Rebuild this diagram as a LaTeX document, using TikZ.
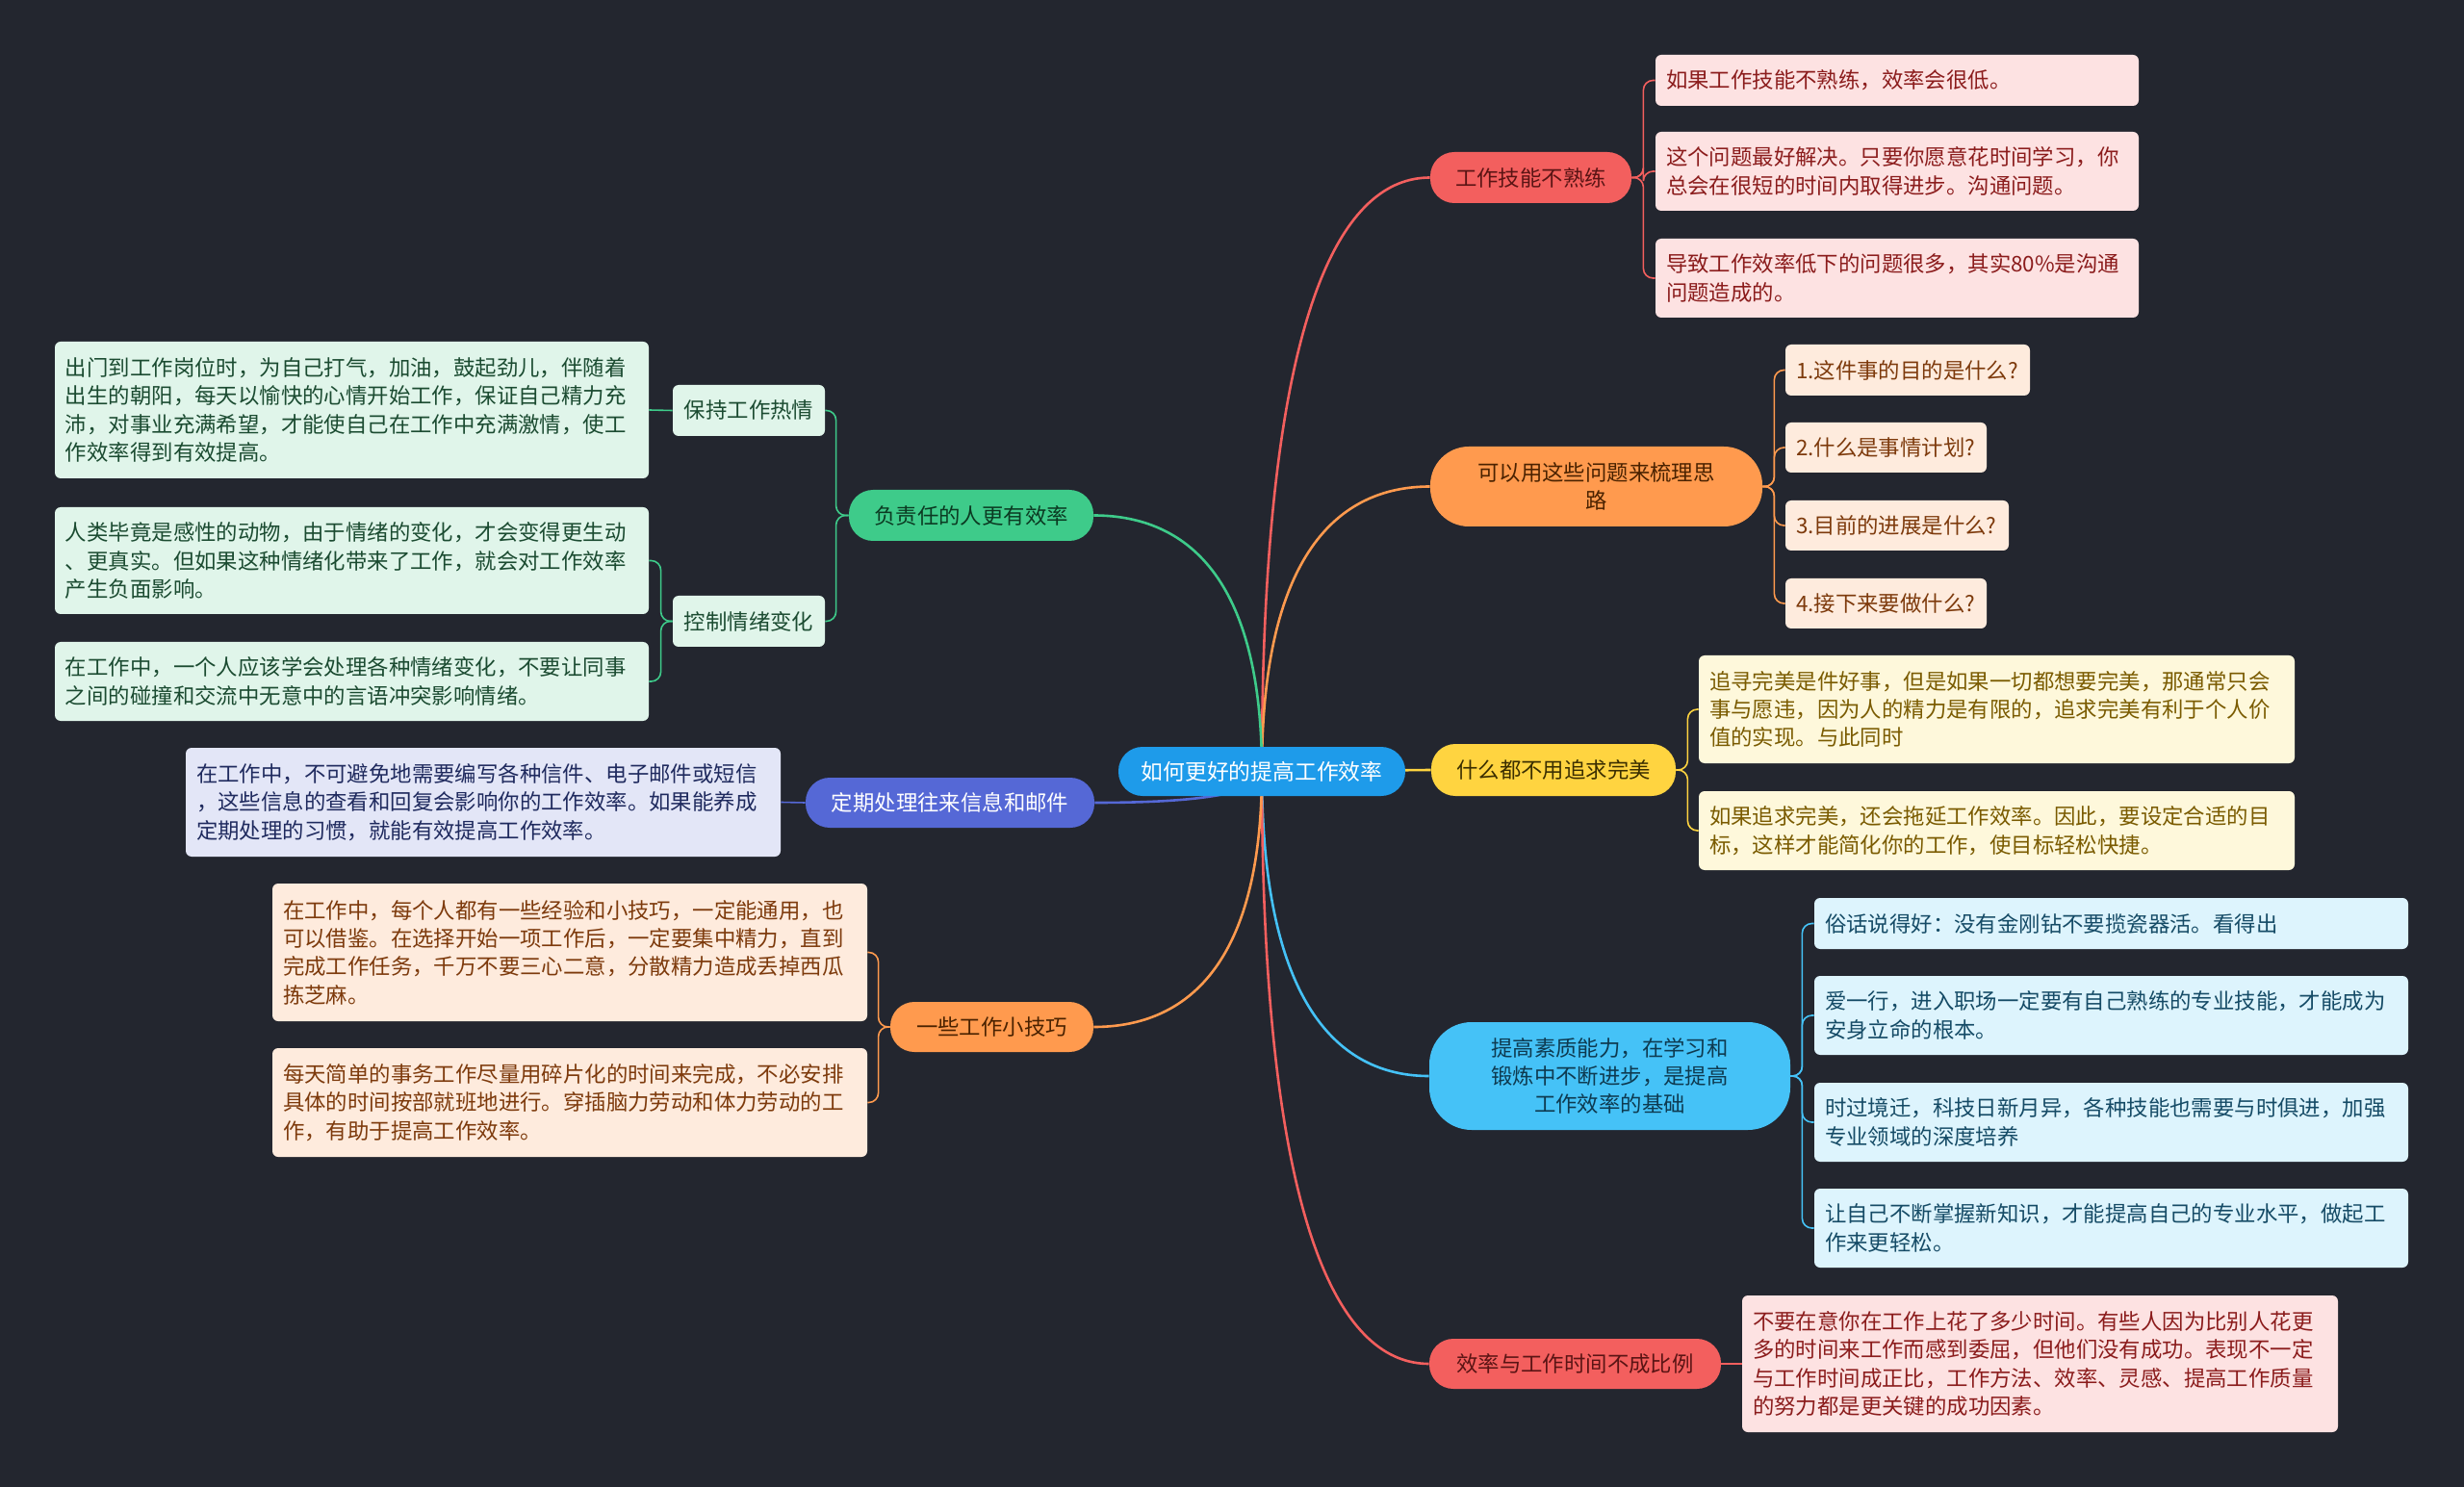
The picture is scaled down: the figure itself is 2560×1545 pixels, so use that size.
\documentclass[tikz,border=0pt]{standalone}
\usepackage{fontspec}
\setmainfont{Noto Sans CJK SC}
\usetikzlibrary{calc}
\pgfdeclarelayer{bg}
\pgfsetlayers{bg,main}
\definecolor{bgc}{HTML}{23262F}
\definecolor{rootc}{HTML}{1E9BEA}
\definecolor{redc}{HTML}{F35F5E}
\definecolor{orgc}{HTML}{FF9A4E}
\definecolor{yelc}{HTML}{FFD440}
\definecolor{cyac}{HTML}{45C2F7}
\definecolor{grnc}{HTML}{3ECB8A}
\definecolor{indc}{HTML}{5568D6}
\definecolor{redd}{HTML}{5A1414}
\definecolor{orgd}{HTML}{4A2200}
\definecolor{yeld}{HTML}{3A2E00}
\definecolor{cyad}{HTML}{0E3A50}
\definecolor{grnd}{HTML}{0B3A22}
\definecolor{redl}{HTML}{FDE2E2}
\definecolor{redt}{HTML}{8B1C1C}
\definecolor{orgl}{HTML}{FEEBDD}
\definecolor{orgt}{HTML}{7D3A0C}
\definecolor{yell}{HTML}{FEF8DB}
\definecolor{yelt}{HTML}{7A5B00}
\definecolor{cyal}{HTML}{DDF4FD}
\definecolor{cyat}{HTML}{154B66}
\definecolor{grnl}{HTML}{E0F5EA}
\definecolor{grnt}{HTML}{1B4B31}
\definecolor{indl}{HTML}{E3E6F7}
\definecolor{indt}{HTML}{1F2A5E}
\tikzset{
  txt/.style={font=\fontsize{11.2}{14.7}\selectfont},
  topic/.style={txt, align=center, inner sep=0pt, rounded corners=12.5pt},
  leaf/.style={txt, align=left, inner xsep=5.5pt, inner ysep=0pt, rounded corners=3pt},
  trunk/.style={line width=1.3pt},
  twig/.style={line width=0.8pt, rounded corners=5pt},
}
\begin{document}
\begin{tikzpicture}[x=0.5pt,y=-0.5pt]
\begin{pgfonlayer}{bg}
\fill[bgc] (0,0) rectangle (2560,1545);
\end{pgfonlayer}
\useasboundingbox (0,0) rectangle (2560,1545);

% root
\node[topic, fill=rootc, text=white, minimum width=149pt, minimum height=25.5pt, font=\fontsize{11.4}{14.7}\selectfont] (root) at (1311,801.5) {如何更好的提高工作效率};

% right topics
\node[topic, fill=redc, text=redd, minimum width=104.5pt, minimum height=26.5pt] (r1) at (1590.5,184.5) {工作技能不熟练};
\node[topic, fill=orgc, text=orgd, minimum width=172.5pt, minimum height=41.5pt, rounded corners=20pt] (r2) at (1658.5,505.5) {可以用这些问题来梳理思\\路};
\node[topic, fill=yelc, text=yeld, minimum width=127pt, minimum height=27pt] (r3) at (1614,800) {什么都不用追求完美};
\node[topic, fill=cyac, text=cyad, minimum width=187.5pt, minimum height=56pt, rounded corners=22pt] (r4) at (1672.5,1118) {提高素质能力，在学习和\\锻炼中不断进步，是提高\\工作效率的基础};
\node[topic, fill=redc, text=redd, minimum width=151.5pt, minimum height=26pt] (r5) at (1636.5,1417) {效率与工作时间不成比例};

% left topics
\node[topic, fill=grnc, text=grnd, minimum width=127pt, minimum height=26.5pt] (l1) at (1009,535.5) {负责任的人更有效率};
\node[topic, fill=indc, text=white, minimum width=150pt, minimum height=26pt] (l2) at (987,834) {定期处理往来信息和邮件};
\node[topic, fill=orgc, text=orgd, minimum width=105.5pt, minimum height=26pt] (l3) at (1030.5,1067) {一些工作小技巧};

% R1 leaves
\node[leaf, fill=redl, text=redt, text width=240pt, minimum height=26.5pt] (r1a) at (1971,83.5) {如果工作技能不熟练，效率会很低。};
\node[leaf, fill=redl, text=redt, text width=240pt, minimum height=41pt] (r1b) at (1971,178) {这个问题最好解决。只要你愿意花时间学习，你\\总会在很短的时间内取得进步。沟通问题。};
\node[leaf, fill=redl, text=redt, text width=240pt, minimum height=41pt] (r1c) at (1971,289) {导致工作效率低下的问题很多，其实80\%是沟通\\问题造成的。};

% R2 leaves
\node[leaf, fill=orgl, text=orgt, text width=116pt, minimum height=26.5pt] (r2a) at (1982,384.5) {1.这件事的目的是什么?};
\node[leaf, fill=orgl, text=orgt, text width=93.5pt, minimum height=26pt] (r2b) at (1959.5,465) {2.什么是事情计划?};
\node[leaf, fill=orgl, text=orgt, text width=105pt, minimum height=26pt] (r2c) at (1971,546) {3.目前的进展是什么?};
\node[leaf, fill=orgl, text=orgt, text width=93.5pt, minimum height=26pt] (r2d) at (1959.5,627) {4.接下来要做什么?};

% R3 leaves
\node[leaf, fill=yell, text=yelt, text width=298.5pt, minimum height=56pt] (r3a) at (2074.5,737) {追寻完美是件好事，但是如果一切都想要完美，那通常只会\\事与愿违，因为人的精力是有限的，追求完美有利于个人价\\值的实现。与此同时};
\node[leaf, fill=yell, text=yelt, text width=298.5pt, minimum height=41pt] (r3b) at (2074.5,863) {如果追求完美，还会拖延工作效率。因此，要设定合适的目\\标，这样才能简化你的工作，使目标轻松快捷。};

% R4 leaves
\node[leaf, fill=cyal, text=cyat, text width=297.5pt, minimum height=26.5pt] (r4a) at (2193.5,959.5) {俗话说得好：没有金刚钻不要揽瓷器活。看得出};
\node[leaf, fill=cyal, text=cyat, text width=297.5pt, minimum height=41pt] (r4b) at (2193.5,1055) {爱一行，进入职场一定要有自己熟练的专业技能，才能成为\\安身立命的根本。};
\node[leaf, fill=cyal, text=cyat, text width=297.5pt, minimum height=41pt] (r4c) at (2193.5,1166) {时过境迁，科技日新月异，各种技能也需要与时俱进，加强\\专业领域的深度培养};
\node[leaf, fill=cyal, text=cyat, text width=297.5pt, minimum height=41pt] (r4d) at (2193.5,1276) {让自己不断掌握新知识，才能提高自己的专业水平，做起工\\作来更轻松。};

% R5 leaf
\node[leaf, fill=redl, text=redt, text width=298.5pt, minimum height=71pt] (r5a) at (2119.5,1417) {不要在意你在工作上花了多少时间。有些人因为比别人花更\\多的时间来工作而感到委屈，但他们没有成功。表现不一定\\与工作时间成正比，工作方法、效率、灵感、提高工作质量\\的努力都是更关键的成功因素。};

% L1 sub topics
\node[topic, fill=grnl, text=grnt, minimum width=79pt, minimum height=26.5pt, rounded corners=3pt] (l1a) at (778,426.5) {保持工作热情};
\node[topic, fill=grnl, text=grnt, minimum width=79pt, minimum height=26.5pt, rounded corners=3pt] (l1b) at (778,645.5) {控制情绪变化};

% L1 leaves
\node[leaf, fill=grnl, text=grnt, text width=297.5pt, minimum height=71pt] (l1aa) at (365.5,426) {出门到工作岗位时，为自己打气，加油，鼓起劲儿，伴随着\\出生的朝阳，每天以愉快的心情开始工作，保证自己精力充\\沛，对事业充满希望，才能使自己在工作中充满激情，使工\\作效率得到有效提高。};
\node[leaf, fill=grnl, text=grnt, text width=297.5pt, minimum height=55.5pt] (l1ba) at (365.5,582.5) {人类毕竟是感性的动物，由于情绪的变化，才会变得更生动\\、更真实。但如果这种情绪化带来了工作，就会对工作效率\\产生负面影响。};
\node[leaf, fill=grnl, text=grnt, text width=297.5pt, minimum height=41pt] (l1bb) at (365.5,708) {在工作中，一个人应该学会处理各种情绪变化，不要让同事\\之间的碰撞和交流中无意中的言语冲突影响情绪。};

% L2 leaf
\node[leaf, fill=indl, text=indt, text width=298pt, minimum height=56.5pt] (l2a) at (502,833.5) {在工作中，不可避免地需要编写各种信件、电子邮件或短信\\，这些信息的查看和回复会影响你的工作效率。如果能养成\\定期处理的习惯，就能有效提高工作效率。};

% L3 leaves
\node[leaf, fill=orgl, text=orgt, text width=298pt, minimum height=71.5pt] (l3a) at (592,989.5) {在工作中，每个人都有一些经验和小技巧，一定能通用，也\\可以借鉴。在选择开始一项工作后，一定要集中精力，直到\\完成工作任务，千万不要三心二意，分散精力造成丢掉西瓜\\拣芝麻。};
\node[leaf, fill=orgl, text=orgt, text width=298pt, minimum height=56.5pt] (l3b) at (592,1145.5) {每天简单的事务工作尽量用碎片化的时间来完成，不必安排\\具体的时间按部就班地进行。穿插脑力劳动和体力劳动的工\\作，有助于提高工作效率。};

\begin{pgfonlayer}{bg}
% trunks
\draw[trunk, redc] (root.center) .. controls (1311,307.9) and (1398.5,184.5) .. (r1.west);
\draw[trunk, orgc] (root.center) .. controls (1311,564.7) and (1398.5,505.5) .. (r2.west);
\draw[trunk, yelc] (root.center) -- (r3.west);
\draw[trunk, cyac] (root.center) .. controls (1311,1054.7) and (1398.5,1118) .. (r4.west);
\draw[trunk, redc] (root.center) .. controls (1311,1293.9) and (1398.5,1417) .. (r5.west);
\draw[trunk, grnc] (root.center) .. controls (1311,588.7) and (1223.5,535.5) .. (l1.east);
\draw[trunk, indc] (root.center) .. controls (1311,828) and (1223.5,834) .. (l2.east);
\draw[trunk, orgc] (root.center) .. controls (1311,1013.9) and (1223.5,1067) .. (l3.east);
% twigs right
\draw[twig, redc] (r1.east) -- ++(12,0) |- (r1a.west);
\draw[twig, redc] (r1.east) -- ++(12,0) |- (r1b.west);
\draw[twig, redc] (r1.east) -- ++(12,0) |- (r1c.west);
\draw[twig, orgc] (r2.east) -- ++(12,0) |- (r2a.west);
\draw[twig, orgc] (r2.east) -- ++(12,0) |- (r2b.west);
\draw[twig, orgc] (r2.east) -- ++(12,0) |- (r2c.west);
\draw[twig, orgc] (r2.east) -- ++(12,0) |- (r2d.west);
\draw[twig, yelc] (r3.east) -- ++(12,0) |- (r3a.west);
\draw[twig, yelc] (r3.east) -- ++(12,0) |- (r3b.west);
\draw[twig, cyac] (r4.east) -- ++(12,0) |- (r4a.west);
\draw[twig, cyac] (r4.east) -- ++(12,0) |- (r4b.west);
\draw[twig, cyac] (r4.east) -- ++(12,0) |- (r4c.west);
\draw[twig, cyac] (r4.east) -- ++(12,0) |- (r4d.west);
\draw[twig, redc] (r5.east) -- (r5a.west);
% twigs left
\draw[twig, grnc] (l1.west) -- ++(-13,0) |- (l1a.east);
\draw[twig, grnc] (l1.west) -- ++(-13,0) |- (l1b.east);
\draw[twig, grnc] (l1a.west) -- (l1aa.east);
\draw[twig, grnc] (l1b.west) -- ++(-12,0) |- (l1ba.east);
\draw[twig, grnc] (l1b.west) -- ++(-12,0) |- (l1bb.east);
\draw[twig, indc] (l2.west) -- (l2a.east);
\draw[twig, orgc] (l3.west) -- ++(-12,0) |- (l3a.east);
\draw[twig, orgc] (l3.west) -- ++(-12,0) |- (l3b.east);
\end{pgfonlayer}
\end{tikzpicture}
\end{document}
